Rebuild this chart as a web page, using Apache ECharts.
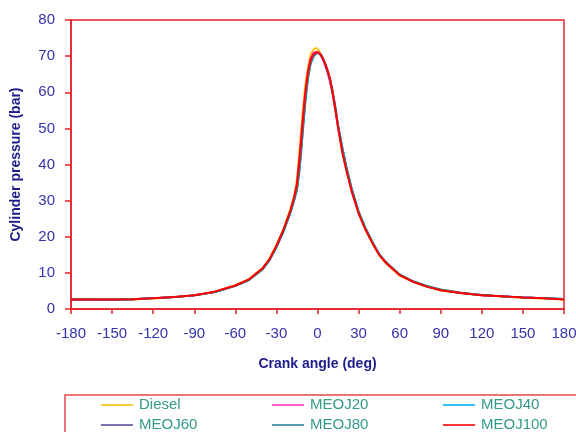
<!DOCTYPE html>
<html><head><meta charset="utf-8">
<script src="https://cdn.jsdelivr.net/npm/echarts@6/dist/echarts.min.js"></script>
<style>html,body{margin:0;padding:0;background:#fff}#c{width:576px;height:432px}</style>
</head><body><div id="c"></div>
<script>
var angles = [-180,-165,-150,-135,-120,-105,-90,-75,-60,-50,-40,-35,-30,-25,-20,-17,-15,-13,-11,-9,-7,-5,-3,-1,0,1,2,3,5,7,9,11,13,15,18,21,25,30,35,40,45,50,60,70,80,90,105,120,135,150,165,180];
var diesel = [2.6,2.6,2.5,2.6,2.9,3.3,3.8,4.8,6.6,8.3,11.4,14.0,17.8,22.0,27.5,31.5,36,45,54,62,67,70.5,71.8,72.3,72.1,71.6,70.9,70.1,68.3,66,63.3,59.5,55,50,44,38.8,32.7,26.6,22,18.2,14.9,12.6,9.2,7.4,6.1,5.1,4.3,3.8,3.4,3.1,2.9,2.6];
var meoj20 = [2.6,2.6,2.6,2.7,3.0,3.3,3.8,4.8,6.5,8.2,11.3,13.8,17.5,21.8,27.0,31.0,34.8,43,52,60,66,69.5,70.9,71.3,71.2,70.9,70.4,69.7,68,65.8,63,59.5,55,50,44,38.7,32.6,26.6,22.1,18.4,15.1,12.8,9.4,7.5,6.2,5.2,4.4,3.8,3.5,3.2,3.0,2.7];
var meoj40 = [2.7,2.7,2.6,2.7,3.0,3.3,3.8,4.7,6.4,8.0,11.0,13.5,17.1,21.3,26.4,30.2,33.0,39,48,57,64,68,70,70.8,71.0,71.0,70.7,70.2,68.6,66.4,63.8,60.5,56,51,45,39.5,33.3,27,22.4,18.6,15.2,12.9,9.5,7.6,6.3,5.3,4.4,3.9,3.5,3.2,3.0,2.8];
var meoj60 = [2.6,2.6,2.6,2.7,3.0,3.3,3.8,4.7,6.4,8.1,11.1,13.6,17.2,21.5,26.6,30.5,33.5,40,49,58,64.5,68.3,70.2,70.8,71.0,70.9,70.6,70.0,68.3,66,63.5,60,55.5,50.5,44.5,39.2,33,26.8,22.3,18.5,15.1,12.8,9.4,7.5,6.2,5.2,4.4,3.8,3.5,3.2,3.0,2.7];
var meoj80 = [2.7,2.7,2.6,2.7,3.0,3.3,3.8,4.7,6.4,8.0,11.0,13.5,17.0,21.2,26.3,30.0,32.8,38.5,47.5,56.5,63.5,67.8,69.8,70.6,70.9,70.9,70.7,70.2,68.6,66.4,63.8,60.5,56,51,45,39.6,33.4,27.1,22.5,18.7,15.3,13.0,9.6,7.7,6.4,5.4,4.5,3.9,3.5,3.2,3.0,2.8];
var meoj100 = [2.6,2.6,2.6,2.7,3.0,3.3,3.8,4.8,6.5,8.2,11.3,13.8,17.5,21.8,27.0,31.0,34.5,42,51,59.5,65.5,69,70.5,71.0,71.1,71.0,70.6,70.0,68.5,66.5,64,60,55.5,50.5,43.5,38.5,32.5,26.5,22,18.3,15,12.8,9.4,7.5,6.2,5.2,4.4,3.8,3.5,3.2,3.0,2.6];
var seriesNames = ['Diesel','MEOJ20','MEOJ40','MEOJ60','MEOJ80','MEOJ100'];
var seriesData = [diesel, meoj20, meoj40, meoj60, meoj80, meoj100];
var colors = ['#FFC000','#FF33CC','#00B0F0','#604A9B','#31859C','#FF0000'];

function pairs(v){ return angles.map(function(a,i){ return [a, v[i]]; }); }
var FONT = "'Liberation Sans', Arial, sans-serif";
var axisRed = '#E8202A';
var series = seriesNames.map(function(n,i){
  return {name:n, type:'line', data:pairs(seriesData[i]), symbol:'none', showSymbol:false,
    lineStyle:{color:colors[i], width: i===5 ? 2 : 1.8}, itemStyle:{color:colors[i]}, z: 2+i};
});
var colLeft = [101, 272, 443];
var rowCenter = [406.5, 426.5];
var legends = seriesNames.map(function(n,i){
  var col = i % 3, row = Math.floor(i / 3);
  return {data:[n], orient:'horizontal', left:colLeft[col], top:rowCenter[row]-9, padding:0,
    icon:'path://M0,0L20,0L20,1L0,1Z', itemWidth:32, itemHeight:1.6, itemGap:0,
    textStyle:{color:'#339988', fontSize:15, fontFamily:FONT, padding:[0,0,0,1]}};
});
var chart = echarts.init(document.getElementById('c'), null, {renderer:'canvas'});
chart.setOption({
  animation:false,
  backgroundColor:'#fff',
  grid:{left:71, right:12, top:20, bottom:123, show:true, borderColor:axisRed, borderWidth:1.5,
    containLabel:false, outerBoundsMode:'none'},
  legend:legends,
  xAxis:{type:'value', min:-180, max:180, interval:30,
    name:'Crank angle (deg)', nameLocation:'middle', nameGap:48,
    nameTextStyle:{color:'#1C1C8C', fontWeight:'bold', fontSize:14, fontFamily:FONT},
    axisLine:{show:true, onZero:false, lineStyle:{color:axisRed, width:1.5}},
    axisTick:{show:true, inside:false, length:5, lineStyle:{color:axisRed, width:1.5}},
    axisLabel:{color:'#3333AA', fontSize:15, fontFamily:FONT, margin:17},
    splitLine:{show:false}},
  yAxis:{type:'value', min:0, max:80, interval:10,
    name:'Cylinder pressure (bar)', nameLocation:'middle', nameGap:48, nameRotate:90,
    nameTextStyle:{color:'#1C1C8C', fontWeight:'bold', fontSize:14, fontFamily:FONT},
    axisLine:{show:true, onZero:false, lineStyle:{color:axisRed, width:1.5}},
    axisTick:{show:true, inside:false, length:6, lineStyle:{color:axisRed, width:1.5}},
    axisLabel:{color:'#3333AA', fontSize:15, fontFamily:FONT, margin:16},
    splitLine:{show:false}},
  graphic:[{type:'rect', shape:{x:65, y:395, width:530, height:60}, silent:true,
    style:{fill:'none', stroke:'#E04848', lineWidth:1.5}}],
  series:series
});
</script></body></html>
